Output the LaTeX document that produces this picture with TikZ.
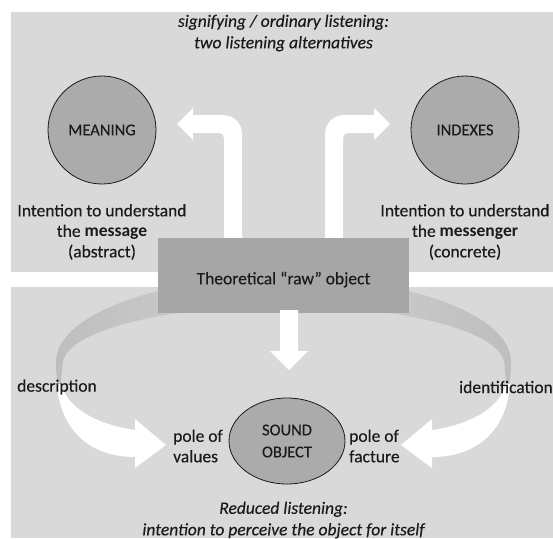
\documentclass[tikz,border=0pt]{standalone}
\usepackage{fontspec}
\setmainfont{Carlito}[UprightFeatures={FakeBold=0.25},ItalicFeatures={FakeBold=0.25}]
\usetikzlibrary{shapes.geometric}
\definecolor{panel}{HTML}{D9D9D9}
\definecolor{rawfill}{HTML}{A6A6A6}
\definecolor{polefill}{HTML}{ABABAB}
\definecolor{ribbondark}{HTML}{BEBEBE}
\definecolor{ribbonlight}{HTML}{D2D2D2}
\definecolor{ink}{HTML}{1A1A1A}
\begin{document}
\begin{tikzpicture}[x=1pt,y=-1pt,
  txt/.style={text=ink, font=\fontsize{17.5}{20.5}\selectfont, inner sep=0pt},
  ital/.style={txt, font=\fontsize{17.5}{21.5}\selectfont\itshape},
  polebox/.style={draw=ink, line width=0.8pt, fill=polefill, text=ink,
    font=\fontsize{16.5}{22}\selectfont, align=center, inner sep=0pt},
  blockarrow/.style={fill=white}]
\useasboundingbox (0,0) rectangle (553,538);

% two background panels
\fill[panel] (11,12) rectangle (553,272);
\fill[panel] (11,287) rectangle (553,538);

% back faces of the two curved ribbons, darker towards the twist
\shade[left color=ribbondark, right color=ribbonlight] (283.5,277) .. controls (158,277) and (56,315) .. (56,362)
  .. controls (56,372) and (57,380) .. (58,386) -- (61,386)
  .. controls (61,378) and (62,372) .. (62.5,365)
  .. controls (62.5,332) and (161.5,306) .. (283.5,306) -- cycle;
\shade[left color=ribbonlight, right color=ribbondark] (283.5,277) .. controls (409,277) and (511,315) .. (511,362)
  .. controls (511,372) and (510,380) .. (509,386) -- (506,386)
  .. controls (506,378) and (505,372) .. (504.5,365)
  .. controls (504.5,332) and (405.5,306) .. (283.5,306) -- cycle;

% bent arrows towards the two listening alternatives
\fill[blockarrow] (224,245) -- (224,138) .. controls (224,135) and (222,133) .. (219,133)
  -- (193,133) -- (193,140) -- (177,124) -- (193,108) -- (193,115) -- (222,115)
  .. controls (234,115) and (242,123) .. (242,135) -- (242,245) -- cycle;
\fill[blockarrow] (343,245) -- (343,138) .. controls (343,135) and (345,133) .. (348,133)
  -- (374,133) -- (374,140) -- (390,124) -- (374,108) -- (374,115) -- (345,115)
  .. controls (333,115) and (325,123) .. (325,135) -- (325,245) -- cycle;

% central object
\node[fill=rawfill, minimum width=251pt, minimum height=75pt, inner sep=0pt] (raw) at (283.5,275.5) {};
\node[txt] (rawlabel) at ([yshift=-4pt]raw.center) {Theoretical “raw” object};

% straight arrow down to the sound object
\fill[blockarrow] (280,310) -- (280,351) -- (270,351) -- (289,370) -- (308,351) -- (298,351) -- (298,310) -- cycle;

% front faces of the curved ribbons
\fill[blockarrow] (57,384) .. controls (60,430) and (90,457) .. (135,457)
  -- (135,468) -- (166,445) -- (135,419) -- (135,430)
  .. controls (100,425) and (68,410) .. (61,384) -- cycle;
\fill[blockarrow] (510,384) .. controls (507,430) and (477,457) .. (432,457)
  -- (432,468) -- (401,445) -- (432,419) -- (432,430)
  .. controls (467,425) and (499,410) .. (506,384) -- cycle;

% poles
\node[polebox, circle, minimum size=108pt] (meaning) at (102,130) {MEANING};
\node[polebox, circle, minimum size=108pt] (indexes) at (465,130) {INDEXES};
\node[polebox, ellipse, minimum width=116pt, minimum height=86pt] (sound) at (287,441) {SOUND\\OBJECT};

% texts
\node[ital, align=center] (title) at (283.5,33) {signifying / ordinary listening:\\two listening alternatives};
\node[txt, align=center] (msg) at (102,232) {Intention to understand\\the \textbf{message}\\(abstract)};
\node[txt, align=center] (msgr) at (465,232) {Intention to understand\\the \textbf{messenger}\\(concrete)};
\node[txt, anchor=west] (descr) at (17,387) {description};
\node[txt, anchor=east] (ident) at (553,387) {identification};
\node[txt, align=left, anchor=west] (values) at (173,446) {pole of\\values};
\node[txt, align=left, anchor=west] (facture) at (349,446) {pole of\\facture};
\node[ital, align=center] (reduced) at (283.5,520) {Reduced listening:\\intention to perceive the object for itself};
\end{tikzpicture}
\end{document}
